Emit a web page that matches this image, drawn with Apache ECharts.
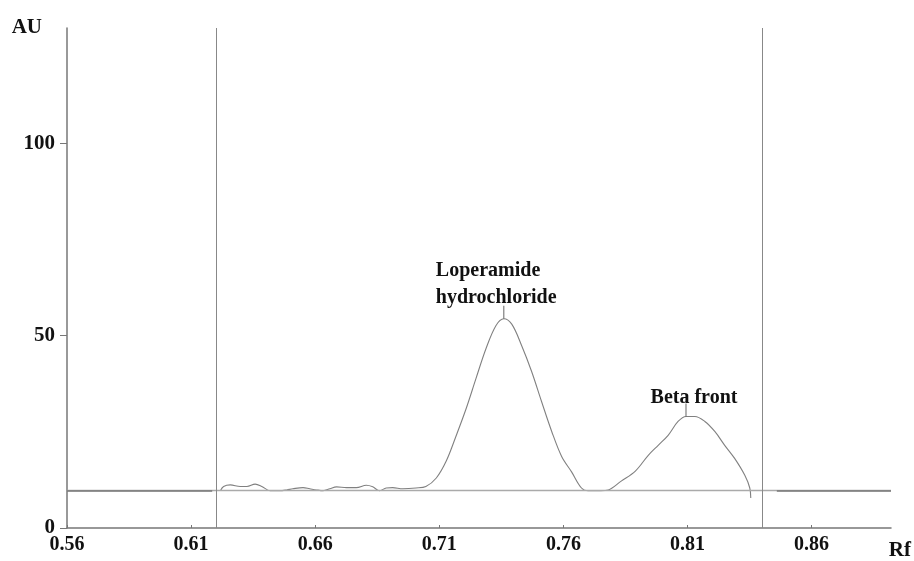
<!DOCTYPE html>
<html>
<head>
<meta charset="utf-8">
<script src="https://cdn.jsdelivr.net/npm/echarts@6/dist/echarts.min.js"></script>
<style>
  html, body { margin: 0; padding: 0; background: #fff; }
  #chart { width: 914px; height: 561px; }
</style>
</head>
<body>
<div id="chart"></div>
<script>
// densitogram trace, Rf vs AU
const rf = [
  0.6218, 0.6231, 0.6258, 0.6298, 0.6325, 0.6358, 0.6385, 0.6418,
  0.6458, 0.6485, 0.6510, 0.6551, 0.6578, 0.6605, 0.6632, 0.6659,
  0.6686, 0.6726, 0.6766, 0.6806, 0.6832, 0.6859, 0.6886, 0.6912,
  0.6953, 0.7006, 0.7046,
  0.7088, 0.7128, 0.7168, 0.7208, 0.7248, 0.7288, 0.7328, 0.7360,
  0.7392, 0.7432, 0.7472, 0.7512, 0.7553, 0.7593, 0.7633, 0.7673,
  0.7700, 0.7750, 0.7781,
  0.7833, 0.7890, 0.7942, 0.7982, 0.8022, 0.8062, 0.8094, 0.8130,
  0.8170, 0.8210, 0.8250, 0.8290, 0.8331, 0.8351, 0.8355
]
const au = [
  9.7, 10.8, 11.2, 10.8, 10.8, 11.4, 10.8, 9.7,
  9.7, 9.9, 10.2, 10.5, 10.2, 9.9, 9.7, 10.2,
  10.7, 10.5, 10.5, 11.1, 10.7, 9.7, 10.4, 10.5,
  10.2, 10.4, 10.8,
  13.0, 17.4, 24.0, 31.0, 38.9, 46.6, 52.6, 54.4,
  53.0, 47.4, 40.7, 32.9, 25.1, 18.6, 14.6, 10.4,
  9.7, 9.7, 9.9,
  12.2, 14.8, 18.9, 21.5, 24.1, 27.7, 29.0, 29.0,
  27.7, 25.1, 21.5, 18.1, 13.7, 10.4, 7.8
]

const xTicks = [0.56, 0.61, 0.66, 0.71, 0.76, 0.81, 0.86]
const yTicks = [0, 50, 100]
const baseline = 9.7
const trackStart = 0.6185
const trackEnd = 0.8371

const peakNames = ['Loperamide\nhydrochloride', 'Beta front']
const peakRf = [0.7360, 0.8094]
const peakAu = [54.4, 29.0]

const font = 'Liberation Serif'
const chart = echarts.init(document.getElementById('chart'))

chart.setOption({
  backgroundColor: '#fff',
  animation: false,
  grid: {
    left: 67,
    right: 21,
    top: 28,
    bottom: 31
  },
  xAxis: {
    type: 'value',
    min: 0.56,
    max: 0.892,
    name: 'Rf',
    nameLocation: 'end',
    nameGap: 20,
    nameTextStyle: {
      fontFamily: font, fontWeight: 'bold', fontSize: 21, color: '#111',
      align: 'right', verticalAlign: 'top', padding: [12, 0, 0, 0]
    },
    axisLine: { lineStyle: { color: '#777', width: 1.5 } },
    axisTick: { inside: true, length: 3, customValues: xTicks, lineStyle: { color: '#777' } },
    axisLabel: {
      customValues: xTicks,
      fontFamily: font, fontWeight: 'bold', fontSize: 20, color: '#111',
      margin: 7,
      formatter: v => v.toFixed(2)
    },
    splitLine: { show: false }
  },
  yAxis: {
    type: 'value',
    min: 0,
    max: 130,
    name: 'AU',
    nameLocation: 'end',
    nameGap: 0,
    nameTextStyle: {
      fontFamily: font, fontWeight: 'bold', fontSize: 21, color: '#111',
      align: 'right', verticalAlign: 'middle', padding: [0, 25, 0, 0]
    },
    axisLine: { show: true, lineStyle: { color: '#777', width: 1.5 } },
    axisTick: { show: true, length: 7, customValues: yTicks, lineStyle: { color: '#777' } },
    axisLabel: {
      customValues: yTicks,
      fontFamily: font, fontWeight: 'bold', fontSize: 21, color: '#111',
      margin: 12
    },
    splitLine: { show: false }
  },
  series: [{
    type: 'line',
    data: rf.map((x, i) => [x, au[i]]),
    smooth: 0.35,
    symbol: 'none',
    lineStyle: { color: '#808080', width: 1.1 },
    z: 3,
    markLine: {
      silent: true,
      symbol: 'none',
      label: { show: false },
      data: [
        { yAxis: baseline, lineStyle: { color: '#aaa', width: 1.3, type: 'solid' } },
        [{ coord: [0.56, baseline] }, { coord: [trackStart, baseline], lineStyle: { color: '#777', width: 1.5, type: 'solid' } }],
        [{ coord: [0.846, baseline] }, { coord: [0.892, baseline], lineStyle: { color: '#777', width: 1.5, type: 'solid' } }],
        { xAxis: trackStart, lineStyle: { color: '#888', width: 1, type: 'solid' } },
        { xAxis: trackEnd, lineStyle: { color: '#888', width: 1, type: 'solid' } }
      ]
    },
    markPoint: {
      silent: true,
      symbol: 'rect',
      symbolSize: [1, 13],
      symbolOffset: [0, -6.5],
      itemStyle: { color: '#666' },
      data: [
        {
          coord: [peakRf[0], peakAu[0]],
          label: {
            show: true, position: 'top', formatter: peakNames[0],
            align: 'left', offset: [-68, 11], lineHeight: 27,
            fontFamily: font, fontWeight: 'bold', fontSize: 20, color: '#111'
          }
        },
        {
          coord: [peakRf[1], peakAu[1]],
          label: {
            show: true, position: 'top', formatter: peakNames[1],
            offset: [8, 9],
            fontFamily: font, fontWeight: 'bold', fontSize: 20, color: '#111'
          }
        }
      ]
    }
  }]
})
</script>
</body>
</html>
